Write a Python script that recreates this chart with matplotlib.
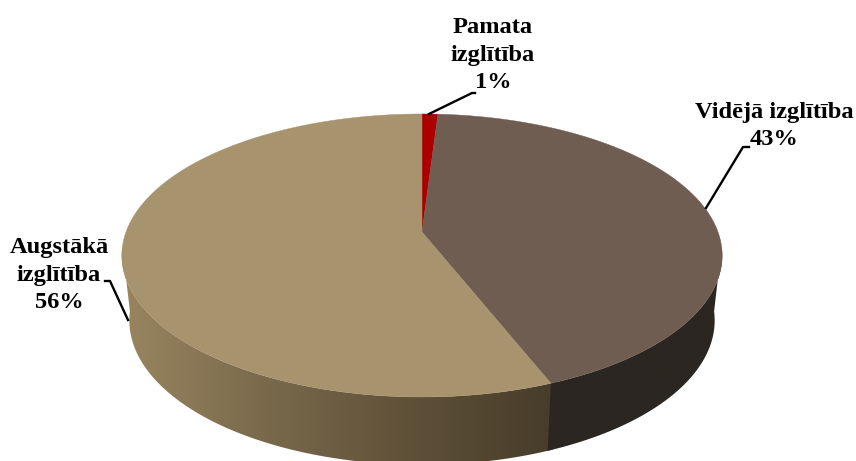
import numpy as np
import matplotlib
matplotlib.use("Agg")
import matplotlib.pyplot as plt
from matplotlib.colors import LinearSegmentedColormap
from matplotlib.patches import Polygon

# dati
kategorijas = ["Pamata\nizglītība", "Vidējā izglītība", "Augstākā\nizglītība"]
procenti = [1, 43, 56]

krasas = ["#AC0000", "#6F5D52", "#A7936D"]
sanu_krasas = [["#5A0000", "#5A0000"],
               ["#2B2621", "#2B2621"],
               ["#9A8661", "#7A6A4C", "#5F5038", "#463C2A"]]
sanu_x = [(115, 560), (540, 730), (115, 560)]
# redzamās sānu virsmas robeža (grādi no augšas, pulksteņrādītāja virzienā)
redzams_no, redzams_lidz = 96, 264

etikesu_xy = [(493, 55), (774, 126), (59, 275)]
liniju_x = [[429, 472, 475], [706, 743, 749], [128, 110, 105]]
liniju_y = [[114, 93, 93], [208, 147, 147], [320, 281, 281]]

# perspektiva: centrs, mērogi un izliekums nolasīti no attēla
cx, cy = 422, 232
ax_skala, ay_skala, k = 296, 137.6, 0.166
biezums = 64.5
apaksa_sx, apaksa_sy = 0.975, 1.02


def augsa(leniki):
    u, v = np.sin(leniki), -np.cos(leniki)
    w = 1 - k * v
    return cx + ax_skala * u / w, cy + ay_skala * v / w


def apaksa(leniki):
    x, y = augsa(leniki)
    return cx + (x - cx) * apaksa_sx, cy + biezums + (y - cy) * apaksa_sy


fig = plt.figure(figsize=(8.56, 4.61), dpi=100)
ax = fig.add_axes([0, 0, 1, 1])

robezas = np.cumsum([0] + procenti) / sum(procenti) * 2 * np.pi

# sānu virsma ar pāreju pa x asi; pēdējā daļa nedaudz paiet zem iepriekšējās
for i in range(len(procenti)):
    sak = max(robezas[i], np.radians(redzams_no))
    bei = min(robezas[i + 1], np.radians(redzams_lidz))
    if sak >= bei:
        continue
    if i == len(procenti) - 1:
        sak -= np.radians(1)
    t = np.linspace(sak, bei, 300)
    x1, y1 = augsa(t)
    x2, y2 = apaksa(t)
    mala = Polygon(np.c_[np.r_[x1, x2[::-1]], np.r_[y1, y2[::-1]]],
                   transform=ax.transData, fc="none", ec="none")
    ax.add_patch(mala)
    cmap = LinearSegmentedColormap.from_list("sans", sanu_krasas[i])
    pareja = np.linspace(0, 1, 512).reshape(1, -1)
    att = ax.imshow(pareja, cmap=cmap, aspect="auto", zorder=2 - 0.1 * i,
                    extent=(sanu_x[i][0], sanu_x[i][1], 461, 0))
    att.set_clip_path(mala)

ax.set_xlim(0, 856)
ax.set_ylim(461, 0)
ax.axis("off")

# augšējā virsma
for i in range(len(procenti)):
    t = np.linspace(robezas[i], robezas[i + 1], 300)
    x, y = augsa(t)
    ax.fill(np.r_[cx, x], np.r_[cy, y], color=krasas[i], lw=0.3, zorder=3)

# etiķetes un līnijas
for i in range(len(procenti)):
    ax.plot(liniju_x[i], liniju_y[i], color="black", lw=1.7, zorder=4,
            solid_joinstyle="round")
    ax.text(etikesu_xy[i][0], etikesu_xy[i][1],
            f"{kategorijas[i]}\n{procenti[i]}%",
            family="Liberation Serif", weight="bold", fontsize=17.6,
            ha="center", va="center", linespacing=1.42, color="black", zorder=5)

fig.savefig("out.png", dpi=100)
